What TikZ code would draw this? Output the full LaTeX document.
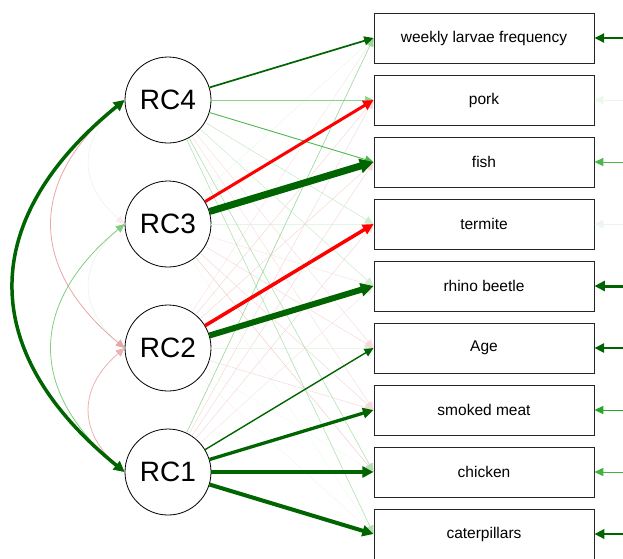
\documentclass[tikz,border=0pt]{standalone}
\usepackage{fontspec}
\setmainfont{Liberation Sans}
\usetikzlibrary{arrows.meta}
% edge palette: strong / weak positive and negative weights
\definecolor{posstrong}{RGB}{0,100,0}
\definecolor{posweak}{RGB}{0,153,0}
\definecolor{negstrong}{RGB}{255,0,0}
\definecolor{negweak}{RGB}{192,0,0}
\begin{document}
\begin{tikzpicture}[x=1pt,y=-1pt,
  latent/.style={circle, draw=black, line width=0.8pt, minimum size=86pt,
    inner sep=0pt, fill=white, font=\fontsize{28}{30}\selectfont},
  manifest/.style={rectangle, draw=black!85, line width=0.9pt,
    minimum width=220pt, minimum height=50pt, inner sep=0pt, fill=white,
    font=\fontsize{15.5}{18}\selectfont},
  edge/.style={-{Triangle[length=8pt 0.8,width=7pt 1]}},
  cov/.style={{Triangle[length=8pt 0.8,width=7pt 1]}-{Triangle[length=8pt 0.8,width=7pt 1]}}]
\useasboundingbox (0,0) rectangle (623,558);

% latent factors
\node[latent] (rc4) at (168,100) {RC4};
\node[latent] (rc3) at (168,224) {RC3};
\node[latent] (rc2) at (168,348) {RC2};
\node[latent] (rc1) at (168,472) {RC1};

% observed variables
\node[manifest] (weekly)  at (484,38)  {weekly larvae frequency};
\node[manifest] (pork)    at (484,100) {pork};
\node[manifest] (fish)    at (484,162) {fish};
\node[manifest] (termite) at (484,224) {termite};
\node[manifest] (rhino)   at (484,286) {rhino beetle};
\node[manifest] (age)     at (484,348) {Age};
\node[manifest] (smoked)  at (484,410) {smoked meat};
\node[manifest] (chicken) at (484,472) {chicken};
\node[manifest] (cater)   at (484,534) {caterpillars};

% loadings, weak ones first so the strong ones lie on top
\foreach \a/\b/\c/\w in {
  rc3/weekly/posweak!8/0.5, rc3/cater/posweak!6/0.5, rc2/chicken/posweak!6/0.5,
  rc2/cater/negweak!6/0.5, rc2/age/posweak!8/0.5, rc3/termite/posweak!10/0.5,
  rc2/weekly/negweak!10/0.5, rc3/rhino/negweak!10/0.5, rc1/rhino/negweak!10/0.5,
  rc4/age/negweak!12/0.5, rc4/smoked/negweak!12/0.5,
  rc2/pork/negweak!15/0.5, rc2/fish/negweak!15/0.5, rc2/smoked/negweak!15/0.5,
  rc1/pork/negweak!15/0.5, rc1/fish/negweak!15/0.5, rc1/termite/negweak!15/0.5,
  rc3/age/negweak!15/0.5, rc3/smoked/negweak!15/0.5, rc3/chicken/negweak!20/0.5,
  rc4/rhino/posweak!18/0.6, rc4/termite/posweak!20/0.6,
  rc4/chicken/posweak!30/0.6, rc4/cater/posweak!30/0.6,
  rc1/weekly/posweak!40/0.6, rc4/pork/posweak!45/0.8, rc4/fish/posweak!70/0.9,
  rc1/age/posstrong/1.4, rc4/weekly/posstrong/1.7,
  rc3/pork/negstrong/3, rc1/smoked/posstrong/3.3, rc2/termite/negstrong/3.5,
  rc1/chicken/posstrong/4, rc1/cater/posstrong/4,
  rc2/rhino/posstrong/6, rc3/fish/posstrong/7}
  \draw[edge, draw=\c, line width=\w pt] (\a) -- (\b.west);

% residual variances
\foreach \b/\y/\c/\w in {
  weekly/38/posstrong/2, pork/100/posweak!8/1, fish/162/posweak!70/1,
  termite/224/posweak!8/1, rhino/286/posstrong/3, age/348/posstrong/2.2,
  smoked/410/posweak!85/1, chicken/472/posweak!75/1, cater/534/posstrong/2.5}{
  \coordinate (\b-res) at (623,\y);
  \draw[edge, draw=\c, line width=\w pt] (\b-res) -- (\b);
}

% factor covariances
\draw[cov, draw=negweak!8, line width=0.6pt]
  (rc4.west) .. controls (78,140) and (78,184) .. (rc3.west);
\draw[cov, draw=posweak!10, line width=0.6pt]
  (rc3.west) .. controls (78,264) and (78,308) .. (rc2.west);
\draw[cov, draw=negweak!30, line width=0.8pt]
  (rc2.west) .. controls (78,388) and (78,432) .. (rc1.west);
\draw[cov, draw=negweak!35, line width=0.8pt]
  (rc4.west) .. controls (28,180) and (28,268) .. (rc2.west);
\draw[cov, draw=posweak!50, line width=0.8pt]
  (rc3.west) .. controls (28,304) and (28,392) .. (rc1.west);
\draw[cov, draw=posstrong, line width=3.5pt]
  (rc4.west) .. controls (-23,220) and (-23,352) .. (rc1.west);
\end{tikzpicture}
\end{document}
